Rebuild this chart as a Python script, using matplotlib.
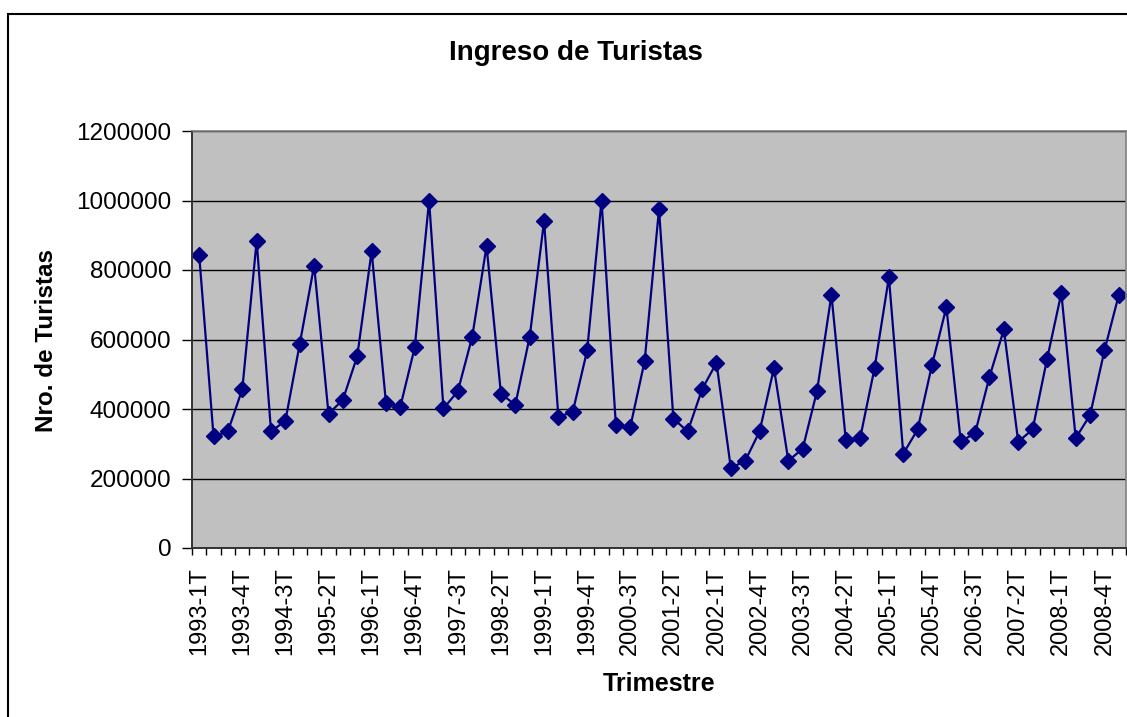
import matplotlib.pyplot as plt
from matplotlib.patches import Rectangle
from matplotlib.ticker import FixedLocator, NullFormatter

plt.rcParams['font.family'] = ['Liberation Sans', 'DejaVu Sans']

# trimestres 1993-1T ... 2009-1T
years = list(range(1993, 2010))
trimestres = [f"{y}-{q}T" for y in years for q in range(1, 5)][:65]

turistas = [
    843000, 321000, 335500, 457000,
    883700, 335500, 366000, 587600,
    812800, 386000, 426500, 552000,
    854000, 417000, 407000, 577000,
    1000000, 401600, 451000, 607700,
    869000, 443800, 412000, 607700,
    940300, 376700, 392000, 568400,
    1000000, 352700, 348000, 537700,
    974800, 371900, 335500, 457000,
    532900, 230000, 251100, 335500,
    517600, 251100, 285600, 452400,
    728500, 311500, 316300, 517600,
    779300, 271300, 341200, 527200,
    693000, 306700, 330700, 492700,
    628800, 305800, 341200, 542500,
    733300, 316300, 382400, 568400,
    728500,
]

W, H = 1127, 717
fig = plt.figure(figsize=(W / 100, H / 100), dpi=100)

# marco exterior del grafico (cortado a la derecha y abajo)
fig.patches.append(Rectangle((8 / W, 0 - 0.01), 1.0, 1 - 14 / H + 0.01,
                             transform=fig.transFigure, fill=False,
                             edgecolor='black', linewidth=1.5))

ax = fig.add_axes([192 / W, (H - 548) / H, (1126 - 192) / W, (548 - 131) / H])
ax.set_facecolor('#c0c0c0')

x = list(range(len(turistas)))
ax.plot(x, turistas, color='#000080', linewidth=1.6, marker='D',
        markersize=7.8, markerfacecolor='#000080', markeredgecolor='#000080')

ax.set_xlim(-0.5, len(turistas) - 0.5)
ax.set_ylim(0, 1200000)
ax.set_yticks(range(0, 1200001, 200000))
ax.set_yticklabels([str(v) for v in range(0, 1200001, 200000)])
ax.yaxis.grid(True, color='black', linewidth=1)
ax.set_axisbelow(True)

ax.set_xticks(x[::3])
ax.set_xticklabels(trimestres[::3], rotation=90)
ax.xaxis.set_minor_locator(FixedLocator([i - 0.5 for i in range(len(turistas) + 1)]))
ax.xaxis.set_minor_formatter(NullFormatter())
ax.tick_params(axis='x', which='major', length=0, pad=14, labelsize=17)
ax.tick_params(axis='x', which='minor', length=5, width=1, color='black')
ax.tick_params(axis='y', length=7, width=1, pad=8, labelsize=17.5)

for side in ['top', 'right']:
    ax.spines[side].set_color('#808080')
    ax.spines[side].set_linewidth(1.2)
for side in ['left', 'bottom']:
    ax.spines[side].set_color('#333333')
    ax.spines[side].set_linewidth(1.4)

fig.text(576 / W, 1 - 53 / H, "Ingreso de Turistas", ha='center', va='center',
         fontsize=20, fontweight='bold')
fig.text(47 / W, 1 - 341 / H, "Nro. de Turistas", ha='center', va='center',
         rotation=90, fontsize=17.5, fontweight='bold')
fig.text(659 / W, 1 - 684 / H, "Trimestre", ha='center', va='center',
         fontsize=18, fontweight='bold')

fig.savefig('out.png', dpi=100)
